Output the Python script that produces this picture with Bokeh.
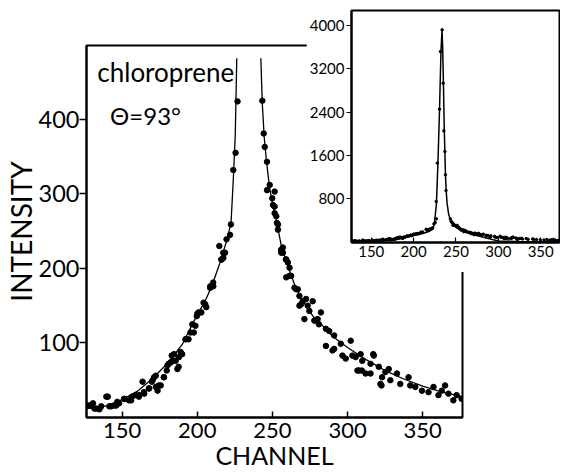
from bokeh.plotting import figure
from bokeh.models import FixedTicker, Range1d, ColumnDataSource, Label
from bokeh.embed import file_html
from bokeh.resources import INLINE

FONT = "Lato"

# ---- data: measured points (channel, intensity) ----
channel = [127.3, 128.3, 130.6, 131.6, 132.8, 134.9, 136.1, 139.5, 140.5, 141.5, 142.7, 144.7, 146.0,
           146.8, 148.0, 151.3, 151.5, 154.6, 156.0, 156.6, 159.2, 161.2, 161.4, 163.6, 164.5, 164.7,
           167.8, 168.0, 169.8, 170.3, 171.3, 172.4, 172.4, 173.6, 174.4, 175.7, 177.7, 177.9, 179.7,
           180.2, 181.0, 182.4, 183.0, 183.5, 184.5, 185.6, 186.8, 187.6, 187.8, 188.9, 190.0, 192.2,
           192.3, 194.2, 195.5, 196.7, 197.7, 198.8, 199.7, 200.0, 200.8, 202.2, 202.7, 204.2, 205.3,
           206.0, 208.6, 208.7, 210.6, 210.7, 214.7, 216.0, 216.3, 217.3, 217.4, 218.5, 219.5, 221.8,
           222.4, 224.0, 225.5, 226.8,
           226.7, 228.0, 230.6, 231.7, 233.7, 234.9, 235.7, 236.9, 237.6, 238.3,
           243.3, 244.2, 244.9, 246.4, 246.4, 248.2, 249.9, 250.4, 251.5, 251.5, 251.5, 252.6, 253.0,
           253.7, 253.7, 255.8, 255.9, 257.0, 257.0, 259.0, 259.2, 259.2, 260.3, 261.4, 261.4, 262.5,
           264.7, 265.8, 266.9, 268.0, 268.0, 269.1, 270.2, 271.3, 272.4, 273.5, 274.6, 276.8, 277.9,
           279.0, 280.1, 281.0, 282.3, 285.6, 285.6, 287.8, 290.0, 291.1, 291.1, 295.5, 296.6, 298.8,
           302.1, 303.2, 305.4, 306.6, 307.6, 308.7, 309.5, 309.8, 312.0, 315.3, 315.3, 317.1, 317.5,
           320.8, 321.9, 322.6, 323.0, 325.2, 327.4, 328.5, 332.9, 335.1, 340.6, 341.7, 345.1, 349.5,
           353.9, 357.2, 360.5, 362.7, 364.9, 367.1, 370.4, 372.6, 375.9]
intensity = [16, 16, 19, 12, 12, 11, 15, 28, 28, 15, 15, 16, 16,
             21, 19, 25, 25, 23, 23, 28, 30, 28, 30, 48, 34, 32,
             39, 39, 48, 50, 54, 41, 56, 36, 43, 43, 54, 54, 63,
             70, 72, 74, 83, 76, 85, 76, 65, 68, 81, 88, 85, 105,
             105, 105, 114, 125, 114, 123, 136, 139, 141, 141, 141, 154, 152,
             148, 174, 176, 181, 176, 230, 212, 212, 221, 214, 221, 239, 245,
             259, 332, 355, 424,
             745, 1455, 2453, 3517, 3919, 2933, 2052, 1669, 1238, 948,
             425, 381, 363, 343, 305, 312, 294, 285, 303, 283, 274, 270, 261,
             259, 252, 225, 221, 228, 221, 212, 212, 188, 208, 201, 190, 190,
             174, 172, 172, 163, 150, 152, 156, 132, 159, 150, 143, 156, 130,
             130, 132, 125, 141, 119, 96, 116, 90, 110, 92, 99, 83, 79,
             103, 83, 81, 63, 63, 85, 63, 76, 59, 72, 59, 85, 83,
             68, 45, 43, 54, 61, 65, 50, 59, 45, 54, 43, 41, 36,
             34, 41, 30, 36, 43, 32, 23, 30, 25]

# fitted curve (main panel), two branches
left_x = [126.3, 135, 140, 150, 160, 170, 180, 190, 200, 205, 210, 215, 220, 222.5, 224, 225.3, 226.3]
left_y = [12, 14, 16, 24, 35, 52, 72, 98, 138, 155, 178, 207, 240, 262, 320, 380, 482]
right_x = [242.3, 243.3, 244.6, 246, 248, 250, 252.5, 256, 260, 265, 270, 277, 285, 290, 300, 312,
           325, 337, 350, 363, 376.5]
right_y = [482, 420, 375, 345, 310, 287, 265, 230, 205, 177, 157, 136, 120, 109, 94, 78,
           63, 52, 42, 34, 28]

# inset curve (full range)
inset_x = [127, 150, 165, 180, 190, 200, 210, 218, 223, 225, 227, 228.7, 230.6, 232.3, 233.5, 234.3,
           235.2, 236.2, 236.9, 237.6, 238.4, 239.5, 241.5, 245, 250, 255, 263, 271, 286, 300, 320, 372]
inset_y = [6, 12, 20, 40, 80, 120, 150, 190, 240, 400, 715, 1455, 2440, 3520, 3919, 3600,
           2933, 2070, 1669, 1238, 961, 715, 499, 345, 270, 222, 170, 129, 68, 15, 5, 0]

x_ticks = [150, 200, 250, 300, 350]
y_ticks = [100, 200, 300, 400]
inset_y_ticks = [800, 1600, 2400, 3200, 4000]

pts = ColumnDataSource(dict(x=channel, y=intensity))

# ---- main panel ----
p = figure(width=466, height=472,
           x_range=Range1d(126.3, 376.5), y_range=Range1d(0, 499),
           output_backend="svg", toolbar_location=None,
           min_border_left=82, min_border_top=45, min_border_right=4, min_border_bottom=53)
p.outline_line_color = "black"
p.outline_line_width = 2
p.grid.visible = False
p.background_fill_color = "white"
p.border_fill_color = "white"

p.xaxis.ticker = FixedTicker(ticks=x_ticks)
p.yaxis.ticker = FixedTicker(ticks=y_ticks)
for ax in (p.xaxis[0], p.yaxis[0]):
    ax.axis_line_width = 2
    ax.axis_line_color = "black"
    ax.major_tick_line_width = 1.5
    ax.major_tick_line_color = "black"
    ax.minor_tick_line_color = None
    ax.major_label_text_font = FONT
    ax.major_label_text_color = "black"
    ax.axis_label_text_font = FONT
    ax.axis_label_text_font_style = "normal"
    ax.axis_label_text_color = "black"

p.xaxis.major_tick_in = 6
p.xaxis.major_tick_out = 0
p.xaxis.major_label_standoff = 5
p.xaxis.major_label_text_font_size = "22px"
p.xaxis.axis_label = "CHANNEL"
p.xaxis.axis_label_text_font_size = "25px"
p.xaxis.axis_label_standoff = -1

p.yaxis.major_tick_in = 0
p.yaxis.major_tick_out = 7
p.yaxis.major_label_standoff = 0
p.yaxis.major_label_text_font_size = "23.5px"
p.yaxis.axis_label = "INTENSITY"
p.yaxis.axis_label_text_font_size = "28px"
p.yaxis.axis_label_standoff = -2

p.line(left_x, left_y, line_color="black", line_width=1.3)
p.line(right_x, right_y, line_color="black", line_width=1.3)
p.scatter("x", "y", source=pts, size=5.5, color="black")

p.add_layout(Label(x=133.5, y=463, text="chloroprene", text_font=FONT, text_font_size="26px",
                   text_baseline="middle", text_color="black"))
p.add_layout(Label(x=142, y=405, text="Θ=93°", text_font=FONT, text_font_size="24px",
                   text_baseline="middle", text_color="black"))

# ---- inset panel ----
q = figure(width=254, height=272,
           x_range=Range1d(126.7, 372.2), y_range=Range1d(-13, 4277),
           output_backend="svg", toolbar_location=None,
           min_border_left=42, min_border_top=10, min_border_right=1, min_border_bottom=30)
q.outline_line_color = "black"
q.outline_line_width = 2
q.grid.visible = False
q.background_fill_color = "white"
q.border_fill_color = "white"
q.xaxis.ticker = FixedTicker(ticks=x_ticks)
q.yaxis.ticker = FixedTicker(ticks=inset_y_ticks)
for ax in (q.xaxis[0], q.yaxis[0]):
    ax.axis_line_width = 2
    ax.axis_line_color = "black"
    ax.major_tick_line_width = 1.2
    ax.major_tick_line_color = "black"
    ax.minor_tick_line_color = None
    ax.major_label_text_font = FONT
    ax.major_label_text_font_size = "15px"
    ax.major_label_text_color = "black"
q.xaxis.major_tick_in = 5
q.xaxis.major_tick_out = 0
q.xaxis.major_label_standoff = 3
q.yaxis.major_tick_in = 0
q.yaxis.major_tick_out = 5
q.yaxis.major_label_standoff = 2

q.line(inset_x, inset_y, line_color="black", line_width=1.5)
q.scatter("x", "y", source=pts, size=2.5, color="black")

q.styles = {"position": "absolute", "left": "306px", "top": "0px",
            "width": "254px", "height": "272px"}

open("out.html", "w").write(file_html([p, q], INLINE))
